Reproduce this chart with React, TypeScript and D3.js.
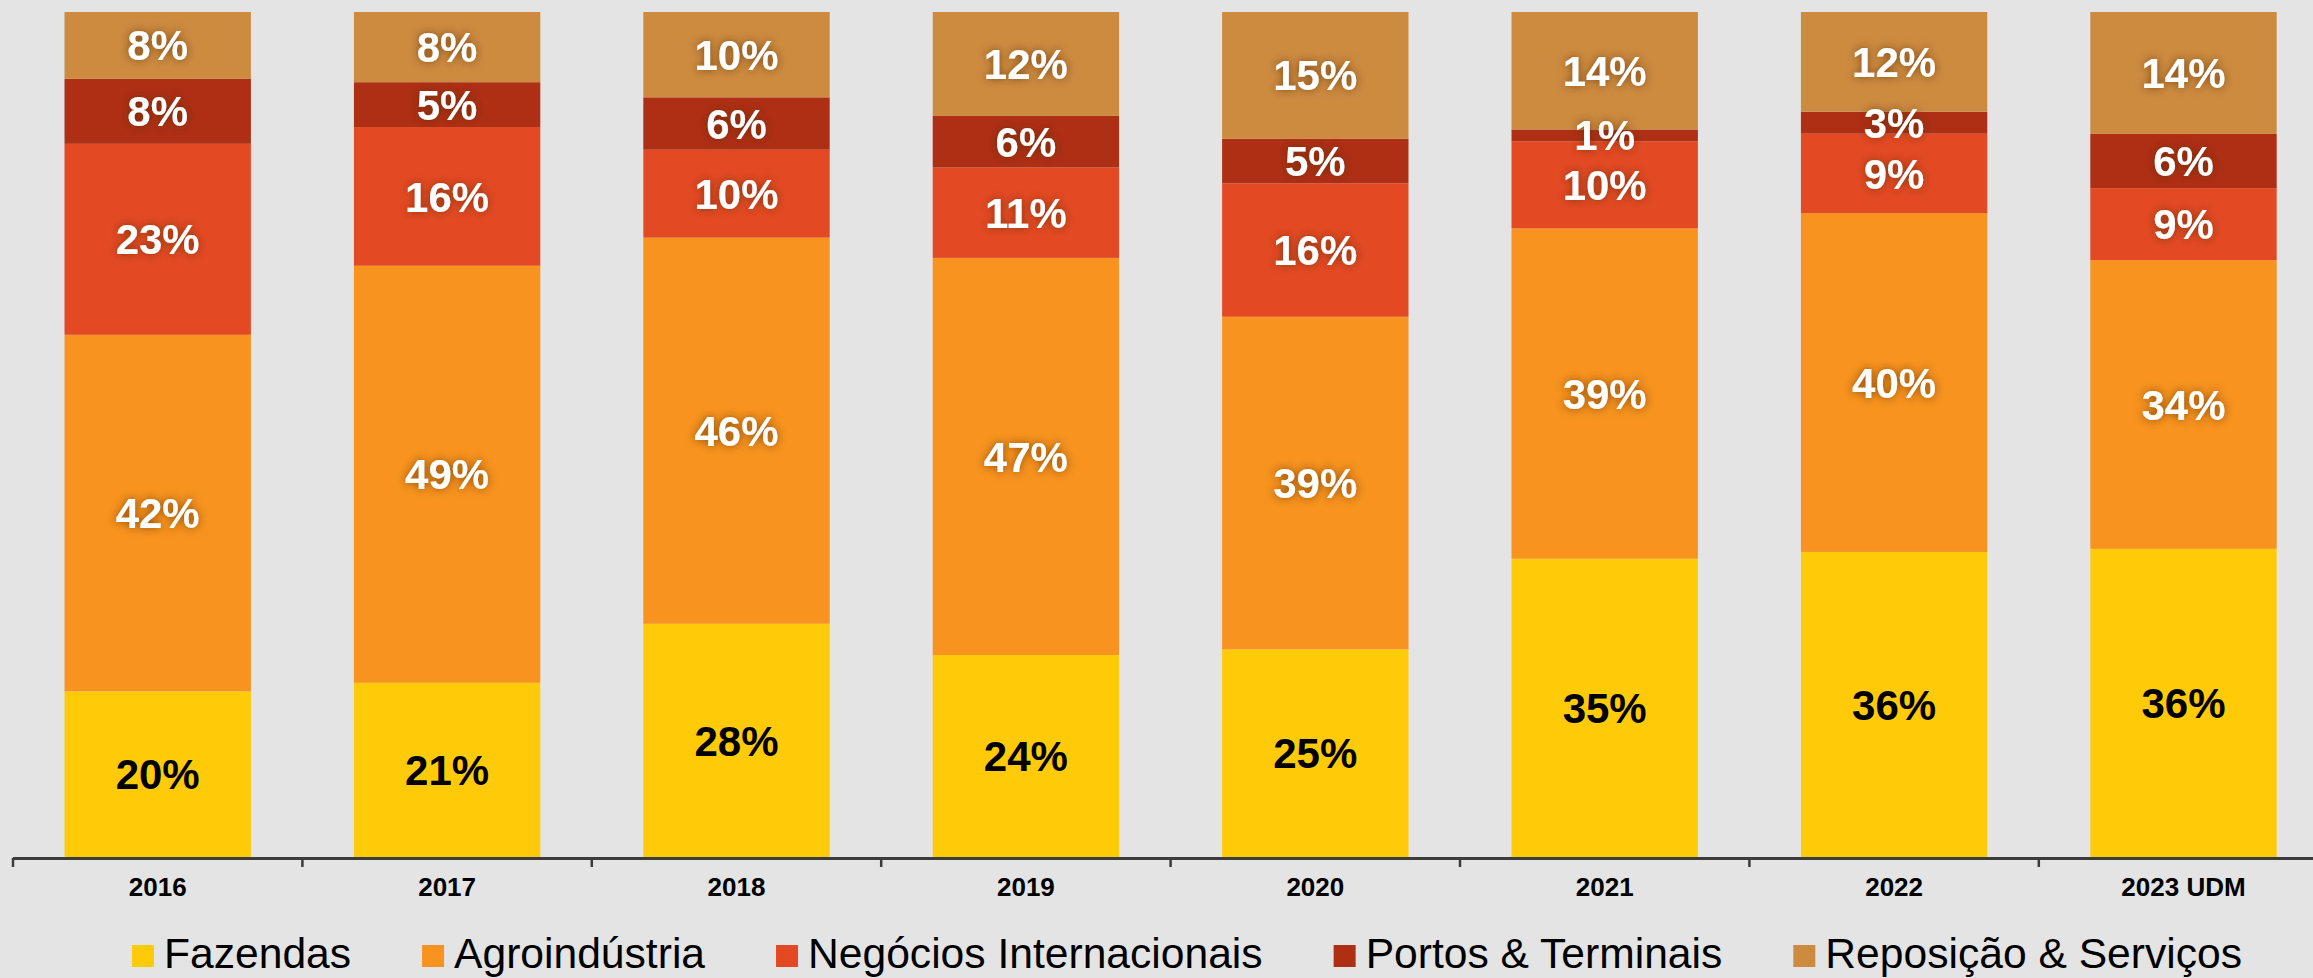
import React, { useRef, useEffect } from "react";
import * as d3 from "d3";

const categories = ["2016", "2017", "2018", "2019", "2020", "2021", "2022", "2023 UDM"];
const seriesNames = [
  "Fazendas",
  "Agroindústria",
  "Negócios Internacionais",
  "Portos & Terminais",
  "Reposição & Serviços",
];
// shares in % (bottom to top)
const fazendas = [19.6, 20.6, 27.6, 23.9, 24.6, 35.3, 36.1, 36.4];
const agroindustria = [42.2, 49.3, 45.7, 47.0, 39.4, 39.1, 40.1, 34.1];
const negocios = [22.6, 16.4, 10.4, 10.7, 15.8, 10.3, 9.4, 8.5];
const portos = [7.7, 5.3, 6.2, 6.1, 5.3, 1.4, 2.6, 6.4];
const reposicao = [7.9, 8.3, 10.1, 12.3, 15.0, 13.9, 11.8, 14.4];

const colors = ["#ffcb08", "#f7931e", "#e34a23", "#ae2f14", "#cc8b3f"];

const W = 2313;
const H = 978;
const FONT = "'Liberation Sans', Arial, sans-serif";

const App = () => {
  const ref = useRef<SVGSVGElement | null>(null);

  useEffect(() => {
    const svg = d3.select(ref.current);
    svg.selectAll("*").remove();

    const seriesValues = [fazendas, agroindustria, negocios, portos, reposicao];
    const rows = categories.map((c, i) => {
      const row: any = { cat: c };
      seriesNames.forEach((s, k) => (row[s] = seriesValues[k][i]));
      return row;
    });

    const stacked = d3
      .stack()
      .keys(seriesNames)
      .offset(d3.stackOffsetExpand)(rows);

    const x = d3
      .scaleBand()
      .domain(categories)
      .range([13, 13 + 8 * 289.4])
      .paddingInner(0.356)
      .paddingOuter(0.178);
    const step = x.step();

    const y = d3.scaleLinear().domain([0, 1]).range([857, 12]);

    // soft dark glow behind the white labels
    const defs = svg.append("defs");
    const f = defs
      .append("filter")
      .attr("id", "glow")
      .attr("x", "-20%")
      .attr("y", "-40%")
      .attr("width", "140%")
      .attr("height", "180%");
    f.append("feGaussianBlur").attr("in", "SourceAlpha").attr("stdDeviation", 4).attr("result", "b");
    f.append("feFlood").attr("flood-color", "#5a2a05").attr("flood-opacity", 0.7);
    f.append("feComposite").attr("in2", "b").attr("operator", "in").attr("result", "s");
    const m = f.append("feMerge");
    m.append("feMergeNode").attr("in", "s");
    m.append("feMergeNode").attr("in", "SourceGraphic");

    svg.append("rect").attr("width", W).attr("height", H).attr("fill", "#e4e4e4");

    const layers = svg
      .selectAll("g.layer")
      .data(stacked)
      .enter()
      .append("g")
      .attr("class", "layer")
      .attr("fill", (d, i) => colors[i]);

    layers
      .selectAll("rect")
      .data((d) => d)
      .enter()
      .append("rect")
      .attr("x", (d: any) => x(d.data.cat)!)
      .attr("y", (d) => y(d[1]))
      .attr("width", x.bandwidth())
      .attr("height", (d) => y(d[0]) - y(d[1]));

    // data labels
    stacked.forEach((layer, k) => {
      svg
        .append("g")
        .selectAll("text")
        .data(layer)
        .enter()
        .append("text")
        .attr("x", (d: any) => x(d.data.cat)! + x.bandwidth() / 2)
        .attr("y", (d) => (y(d[0]) + y(d[1])) / 2)
        .attr("dy", "0.36em")
        .attr("text-anchor", "middle")
        .attr("font-family", FONT)
        .attr("font-weight", "bold")
        .attr("font-size", 42)
        .attr("fill", k === 0 ? "#000" : "#fff")
        .attr("filter", k === 0 ? null : "url(#glow)")
        .text((d: any) => Math.round(d.data[layer.key]) + "%");
    });

    // x axis: line with ticks on band boundaries
    const axis = svg.append("g");
    axis
      .append("line")
      .attr("x1", x.range()[0])
      .attr("x2", W)
      .attr("y1", 858.5)
      .attr("y2", 858.5)
      .attr("stroke", "#3c3c3c")
      .attr("stroke-width", 3);
    axis
      .selectAll("line.tick")
      .data(categories)
      .enter()
      .append("line")
      .attr("class", "tick")
      .attr("x1", (c) => x(c)! - step * 0.178)
      .attr("x2", (c) => x(c)! - step * 0.178)
      .attr("y1", 858)
      .attr("y2", 867)
      .attr("stroke", "#3c3c3c")
      .attr("stroke-width", 2.5);
    axis
      .selectAll("text")
      .data(categories)
      .enter()
      .append("text")
      .attr("x", (c) => x(c)! + x.bandwidth() / 2)
      .attr("y", 896)
      .attr("text-anchor", "middle")
      .attr("font-family", FONT)
      .attr("font-weight", "bold")
      .attr("font-size", 26)
      .attr("fill", "#000")
      .text((c) => c);

    // legend
    const legend = svg.append("g");
    let lx = 132;
    seriesNames.forEach((s, i) => {
      legend
        .append("rect")
        .attr("x", lx)
        .attr("y", 945)
        .attr("width", 22)
        .attr("height", 22)
        .attr("fill", colors[i]);
      const t = legend
        .append("text")
        .attr("x", lx + 32)
        .attr("y", 968)
        .attr("font-family", FONT)
        .attr("font-size", 42.6)
        .attr("fill", "#000")
        .text(s);
      const tw = (t.node() as SVGTextElement).getComputedTextLength();
      lx += 32 + tw + 71;
    });
  }, []);

  return (
    <svg
      ref={ref}
      width={W}
      height={H}
      style={{ position: "absolute", left: 0, top: 0, display: "block" }}
    />
  );
};

export default App;
